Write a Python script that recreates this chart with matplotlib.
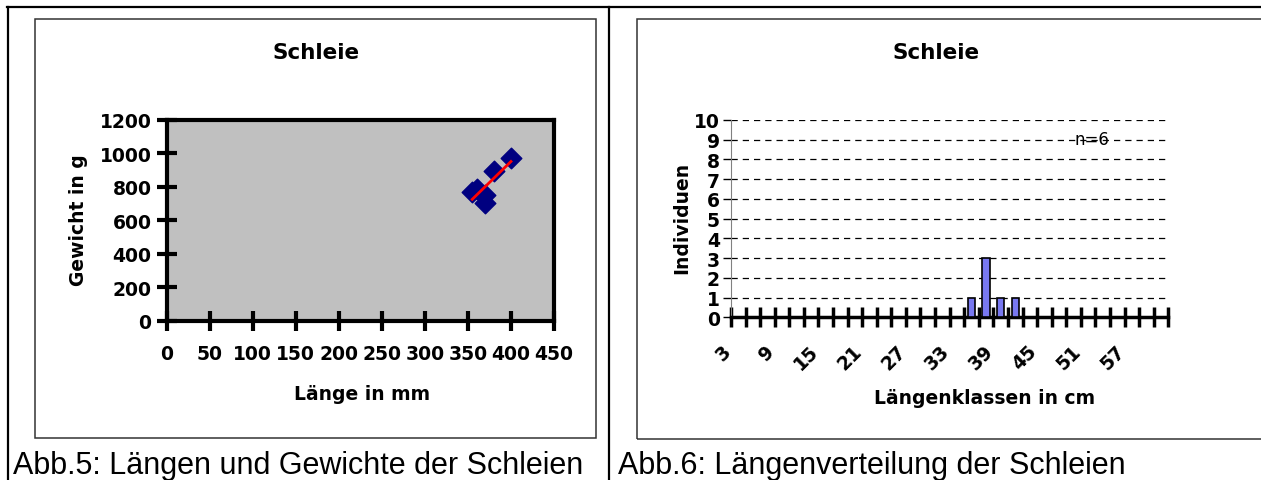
import numpy as np
import matplotlib
matplotlib.use('Agg')
import matplotlib.pyplot as plt
import matplotlib.transforms as mtransforms
from matplotlib.patches import Rectangle
from matplotlib.lines import Line2D

plt.rcParams['font.family'] = ['DejaVu Sans']

# Data: length (mm) and weight (g) of the tench
laenge_mm = [355, 360, 370, 370, 380, 400]
gewicht_g = [770, 785, 750, 705, 895, 970]

# Length classes (cm) and counts
klassen_cm = list(range(3, 62, 2))
anzahl = [0] * len(klassen_cm)
for k, n in zip([35, 37, 39, 41], [1, 3, 1, 1]):
    anzahl[klassen_cm.index(k)] = n

W, H = 1261, 481
fig = plt.figure(figsize=(W / 100, H / 100), dpi=100)


def rect(x0, y0, x1, y1):
    # pixel box (top-left origin) -> figure fraction
    return [x0 / W, 1 - y1 / H, (x1 - x0) / W, (y1 - y0) / H]


def fx(x):
    return x / W


def fy(y):
    return 1 - y / H


LBL = 13.5   # chart text size

# table lines and chart frames
fig.add_artist(Line2D([fx(7), 1], [fy(7.5), fy(7.5)], color='black', lw=1.6))
fig.add_artist(Line2D([fx(7.5), fx(7.5)], [0, fy(7.5)], color='black', lw=1.6))
fig.add_artist(Line2D([fx(609), fx(609)], [0, fy(7.5)], color='black', lw=1.6))
fig.add_artist(Rectangle((fx(35), fy(439)), fx(596) - fx(35), fy(20) - fy(439),
                         fill=False, ec='#333333', lw=1.1, transform=fig.transFigure))
fig.add_artist(Rectangle((fx(637), fy(440)), 1.05 - fx(637), fy(20) - fy(440),
                         fill=False, ec='#333333', lw=1.1, transform=fig.transFigure,
                         clip_on=False))

# ---- left chart: scatter ----
ax1 = fig.add_axes(rect(166.7, 120.7, 554, 321.7))
ax1.set_facecolor('#C0C0C0')
ax1.scatter(laenge_mm, gewicht_g, marker='D', s=110, color='#000080', zorder=3)
a, b = np.polyfit(laenge_mm, gewicht_g, 1)
xs = np.array([min(laenge_mm), max(laenge_mm)])
ax1.plot(xs, a * xs + b, color='red', lw=2, zorder=4)
ax1.set_xlim(0, 450)
ax1.set_ylim(0, 1200)
ax1.set_xticks(range(0, 451, 50))
ax1.set_yticks(range(0, 1201, 200))
for s in ax1.spines.values():
    s.set_linewidth(3)
ax1.tick_params(axis='x', direction='inout', length=14, width=3, pad=10,
                labelsize=LBL)
ax1.tick_params(axis='y', direction='inout', length=14, width=3, pad=4,
                labelsize=LBL)
for lab in ax1.get_xticklabels() + ax1.get_yticklabels():
    lab.set_fontweight('bold')
fig.text(fx(316), fy(53), 'Schleie', ha='center', va='center',
         fontsize=15.5, fontweight='bold')
fig.text(fx(362), fy(395), 'Länge in mm', ha='center', va='center',
         fontsize=LBL, fontweight='bold')
fig.text(fx(79), fy(220), 'Gewicht in g', ha='center', va='center',
         rotation=90, fontsize=LBL, fontweight='bold')

# ---- right chart: histogram ----
ax2 = fig.add_axes(rect(731, 121, 1168.3, 318.3))
pos = np.arange(len(klassen_cm))
ax2.bar(pos, anzahl, width=0.5, color='#7878F0', edgecolor='black',
        linewidth=1.2, zorder=3)
ax2.set_xlim(-0.5, len(klassen_cm) - 0.5)
ax2.set_ylim(0, 10)
ax2.set_yticks(range(0, 11))
ax2.yaxis.grid(True, linestyle=(0, (5, 4)), color='black', lw=0.9)
ax2.set_axisbelow(True)
ax2.set_xticks(np.arange(-0.5, len(klassen_cm)))
ax2.set_xticklabels([])
ax2.tick_params(axis='x', which='major', direction='inout', length=14, width=2.5)
ax2.tick_params(axis='y', direction='out', length=6, width=1, pad=2,
                labelsize=LBL)
for lab in ax2.get_yticklabels():
    lab.set_fontweight('bold')
# rotated class labels, every third class
off = mtransforms.ScaledTranslation(-0.17, -0.24, fig.dpi_scale_trans)
for p, k in zip(pos[::3], klassen_cm[::3]):
    ax2.text(p, 0, str(k), transform=ax2.get_xaxis_transform() + off,
             rotation=45, ha='right', va='top', rotation_mode='anchor',
             fontsize=LBL, fontweight='bold', clip_on=False)
ax2.spines['top'].set_visible(False)
ax2.spines['right'].set_visible(False)
ax2.spines['left'].set_color('#808080')
ax2.spines['bottom'].set_linewidth(2.5)
ax2.text(fx(1092), fy(140), 'n=6', transform=fig.transFigure, ha='center',
         va='center', fontsize=12, zorder=1)
fig.text(fx(936), fy(53), 'Schleie', ha='center', va='center',
         fontsize=15.5, fontweight='bold')
fig.text(fx(985), fy(399), 'Längenklassen in cm', ha='center', va='center',
         fontsize=LBL, fontweight='bold')
fig.text(fx(682), fy(218), 'Individuen', ha='center', va='center',
         rotation=90, fontsize=LBL, fontweight='bold')

# captions
fig.text(fx(13), fy(474), 'Abb.5: Längen und Gewichte der Schleien',
         ha='left', va='baseline', fontsize=22, family='Liberation Sans')
fig.text(fx(618), fy(474), 'Abb.6: Längenverteilung der Schleien',
         ha='left', va='baseline', fontsize=22, family='Liberation Sans')

fig.savefig('out.png', dpi=100)
